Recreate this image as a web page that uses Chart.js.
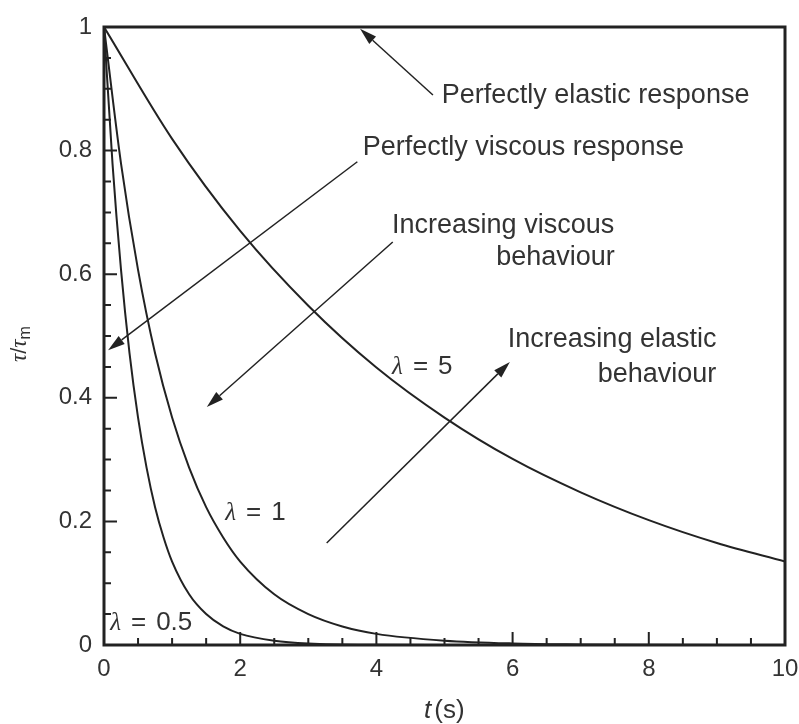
<!DOCTYPE html>
<html>
<head>
<meta charset="utf-8">
<script src="https://cdn.jsdelivr.net/npm/chart.js@4.4.1/dist/chart.umd.min.js"></script>
<style>
  html, body { margin: 0; padding: 0; background: #ffffff; }
  #wrap { width: 799px; height: 724px; position: relative; }
</style>
</head>
<body>
<div id="wrap"><canvas id="relaxChart" width="799" height="724"></canvas></div>
<script>
// --- DATA ---
const tLambda5 = [0, 1, 2, 3, 4, 5, 6, 7, 8, 9, 10];
const yLambda5 = [1, 0.819, 0.670, 0.549, 0.449, 0.368, 0.301, 0.247, 0.202, 0.165, 0.135];

const tLambda1 = [0, 0.25, 0.5, 0.75, 1, 1.25, 1.5, 1.75, 2, 2.5, 3, 3.5, 4, 5, 6, 7, 8, 10];
const yLambda1 = [1, 0.779, 0.607, 0.472, 0.368, 0.287, 0.223, 0.174, 0.135, 0.082, 0.050, 0.030, 0.018, 0.007, 0.0025, 0.001, 0.0003, 0];

const tLambda05 = [0, 0.125, 0.25, 0.375, 0.5, 0.625, 0.75, 0.875, 1, 1.25, 1.5, 1.75, 2, 2.5, 3, 4, 5, 10];
const yLambda05 = [1, 0.779, 0.607, 0.472, 0.368, 0.287, 0.223, 0.174, 0.135, 0.082, 0.050, 0.030, 0.018, 0.007, 0.0025, 0.0003, 0, 0];

const xTicks = [0, 2, 4, 6, 8, 10];
const yTicks = [0, 0.2, 0.4, 0.6, 0.8, 1];

// annotation arrows, in data units: [tailX, tailY, headX, headY]
const arrows = [
    [4.83, 0.890, 3.76, 0.997],   // perfectly elastic
    [3.72, 0.782, 0.06, 0.477],   // perfectly viscous
    [4.24, 0.652, 1.51, 0.385],   // increasing viscous
    [3.27, 0.165, 5.96, 0.458]    // increasing elastic
];

// annotation texts: [text, x, y, align]
const notes = [
    ['Perfectly elastic response', 4.96, 0.877, 'left'],
    ['Perfectly viscous response', 3.80, 0.793, 'left'],
    ['Increasing viscous', 4.23, 0.667, 'left'],
    ['behaviour', 7.50, 0.615, 'right'],
    ['Increasing elastic', 5.93, 0.482, 'left'],
    ['behaviour', 8.99, 0.426, 'right']
];

// curve labels: [value after "λ = ", x, y]
const lambdaLabels = [
    ['5', 4.23, 0.439],
    ['1', 1.78, 0.202],
    ['0.5', 0.09, 0.024]
];

const ink = '#222222';
const textInk = '#333333';

function toPoints(xs, ys) {
    return xs.map((x, i) => ({ x: x, y: ys[i] }));
}

function lineSet(label, xs, ys) {
    return {
        label: label,
        data: toPoints(xs, ys),
        borderColor: ink,
        borderWidth: 2,
        pointRadius: 0,
        fill: false,
        cubicInterpolationMode: 'monotone'
    };
}

// --- FRAME, TICKS, ANNOTATIONS ---
const decorPlugin = {
    id: 'decor',
    afterDatasetsDraw(chart) {
        const ctx = chart.ctx;
        const xs = chart.scales.x;
        const ys = chart.scales.y;
        const a = chart.chartArea;
        const px = v => xs.getPixelForValue(v);
        const py = v => ys.getPixelForValue(v);

        ctx.save();
        ctx.strokeStyle = ink;
        ctx.fillStyle = ink;

        // inward ticks on bottom and left axes
        ctx.lineWidth = 2;
        ctx.beginPath();
        for (let i = 0; i <= 20; i++) {
            const v = i * 0.5;
            const len = (i % 4 === 0) ? 13 : 7;
            ctx.moveTo(px(v), a.bottom);
            ctx.lineTo(px(v), a.bottom - len);
        }
        for (let i = 0; i <= 20; i++) {
            const v = i * 0.05;
            const len = (i % 4 === 0) ? 13 : 7;
            ctx.moveTo(a.left, py(v));
            ctx.lineTo(a.left + len, py(v));
        }
        ctx.stroke();

        // frame
        ctx.lineWidth = 3;
        ctx.strokeRect(a.left, a.top, a.right - a.left, a.bottom - a.top);

        // arrows
        ctx.lineWidth = 1.5;
        arrows.forEach(([x0, y0, x1, y1]) => {
            const sx = px(x0), sy = py(y0), ex = px(x1), ey = py(y1);
            const ang = Math.atan2(ey - sy, ex - sx);
            const hl = 17, hw = 5;
            const bx = ex - hl * Math.cos(ang), by = ey - hl * Math.sin(ang);
            ctx.beginPath();
            ctx.moveTo(sx, sy);
            ctx.lineTo(bx, by);
            ctx.stroke();
            ctx.beginPath();
            ctx.moveTo(ex, ey);
            ctx.lineTo(bx + hw * Math.sin(ang), by - hw * Math.cos(ang));
            ctx.lineTo(bx - hw * Math.sin(ang), by + hw * Math.cos(ang));
            ctx.closePath();
            ctx.fill();
        });

        // notes
        ctx.fillStyle = textInk;
        ctx.font = '27px "Liberation Sans", Arial, sans-serif';
        ctx.textBaseline = 'alphabetic';
        notes.forEach(([txt, x, y, align]) => {
            ctx.textAlign = align;
            ctx.fillText(txt, px(x), py(y));
        });

        // lambda labels
        lambdaLabels.forEach(([val, x, y]) => {
            let cx = px(x);
            const cy = py(y);
            ctx.textAlign = 'left';
            ctx.font = 'italic 25px "Liberation Serif", serif';
            ctx.fillText('\u03bb', cx, cy);
            cx += ctx.measureText('\u03bb').width + 10;
            ctx.font = '26px "Liberation Sans", Arial, sans-serif';
            ctx.fillText('=', cx, cy);
            cx += ctx.measureText('=').width + 10;
            ctx.fillText(val, cx, cy);
        });

        // x title: t (s)
        ctx.textBaseline = 'alphabetic';
        ctx.textAlign = 'left';
        let tx = 424;
        const tyBase = 718;
        ctx.font = 'italic 26px "Liberation Sans", Arial, sans-serif';
        ctx.fillText('t', tx, tyBase);
        tx += ctx.measureText('t').width + 3;
        ctx.font = '26px "Liberation Sans", Arial, sans-serif';
        ctx.fillText('(s)', tx, tyBase);

        // y title: τ/τm rotated
        ctx.save();
        ctx.translate(26, 362);
        ctx.rotate(-Math.PI / 2);
        ctx.textAlign = 'left';
        let yx = 0;
        ctx.font = 'italic 23px "Liberation Serif", serif';
        ctx.fillText('\u03c4', yx, 0);
        yx += ctx.measureText('\u03c4').width;
        ctx.font = '22px "Liberation Sans", Arial, sans-serif';
        ctx.fillText('/', yx, 0);
        yx += ctx.measureText('/').width;
        ctx.font = 'italic 23px "Liberation Serif", serif';
        ctx.fillText('\u03c4', yx, 0);
        yx += ctx.measureText('\u03c4').width;
        ctx.font = '16px "Liberation Sans", Arial, sans-serif';
        ctx.fillText('m', yx, 4);
        ctx.restore();

        ctx.restore();
    }
};

const ctx = document.getElementById('relaxChart').getContext('2d');
const myChart = new Chart(ctx, {
    type: 'line',
    data: {
        datasets: [
            lineSet('λ = 5', tLambda5, yLambda5),
            lineSet('λ = 1', tLambda1, yLambda1),
            lineSet('λ = 0.5', tLambda05, yLambda05)
        ]
    },
    options: {
        responsive: false,
        animation: false,
        layout: { padding: { top: 27, right: 14, left: 0, bottom: 0 } },
        plugins: { legend: { display: false }, tooltip: { enabled: false } },
        scales: {
            x: {
                type: 'linear',
                min: 0,
                max: 10,
                grid: { display: false, drawTicks: false },
                border: { display: false },
                afterBuildTicks: s => { s.ticks = xTicks.map(v => ({ value: v })); },
                afterFit: s => { s.height = 79; s.paddingLeft = 0; s.paddingRight = 0; },
                ticks: {
                    color: textInk,
                    padding: 10,
                    maxRotation: 0,
                    font: { family: '"Liberation Sans", Arial, sans-serif', size: 24 }
                }
            },
            y: {
                type: 'linear',
                min: 0,
                max: 1,
                grid: { display: false, drawTicks: false },
                border: { display: false },
                afterBuildTicks: s => { s.ticks = yTicks.map(v => ({ value: v })); },
                afterFit: s => { s.width = 104; s.paddingTop = 0; s.paddingBottom = 0; },
                ticks: {
                    color: textInk,
                    padding: 12,
                    callback: v => String(Math.round(v * 10) / 10),
                    font: { family: '"Liberation Sans", Arial, sans-serif', size: 24 }
                }
            }
        }
    },
    plugins: [decorPlugin]
});
</script>
</body>
</html>
